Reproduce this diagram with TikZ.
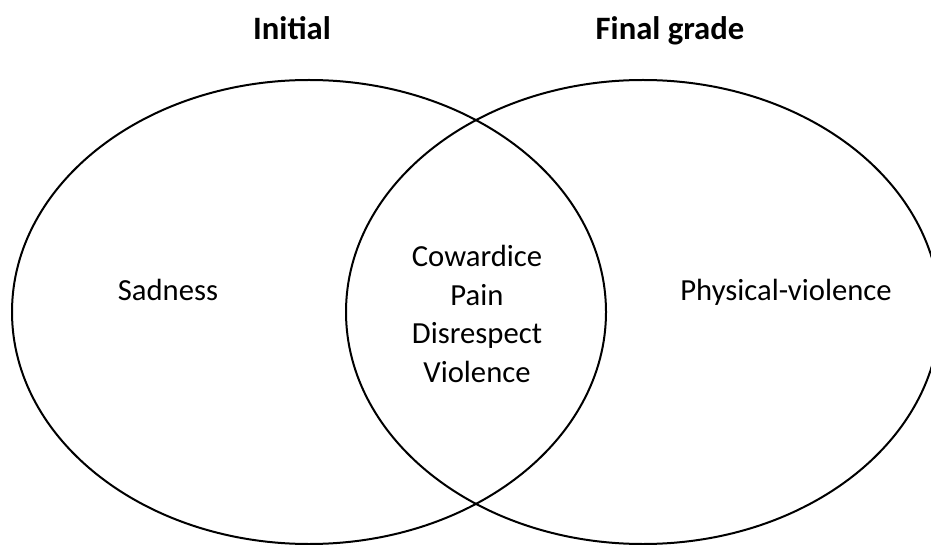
\documentclass[tikz,border=0pt]{standalone}
\usepackage{fontspec}
\setmainfont{Carlito}
\usetikzlibrary{shapes.geometric}
\tikzstyle{set} = [draw, ellipse, line width=1.5pt, minimum width=445.5pt, minimum height=348pt, inner sep=0pt]
\tikzstyle{title} = [font=\fontsize{24.5}{29}\selectfont\bfseries, anchor=base]
\tikzstyle{item} = [font=\fontsize{23}{29}\selectfont, align=center]

\begin{document}
\begin{tikzpicture}[x=0.75pt, y=-0.75pt]
			\useasboundingbox (0, 0) rectangle (931, 545);
			\node[set](initial) at (309, 312){};
			\node[set](final) at (643, 312){};
			
			\node[title](tinitial) at (292, 40){Initial};
			\node[title](tfinal) at (670, 40){Final grade};
			
			\node[item, anchor=base](sadness) at (168, 300){Sadness};
			\node[item, anchor=base](physical) at (786, 300){Physical-violence};
			\node[item](common) at (477, 314){Cowardice\\Pain\\Disrespect\\Violence};
		\end{tikzpicture}
\end{document}
